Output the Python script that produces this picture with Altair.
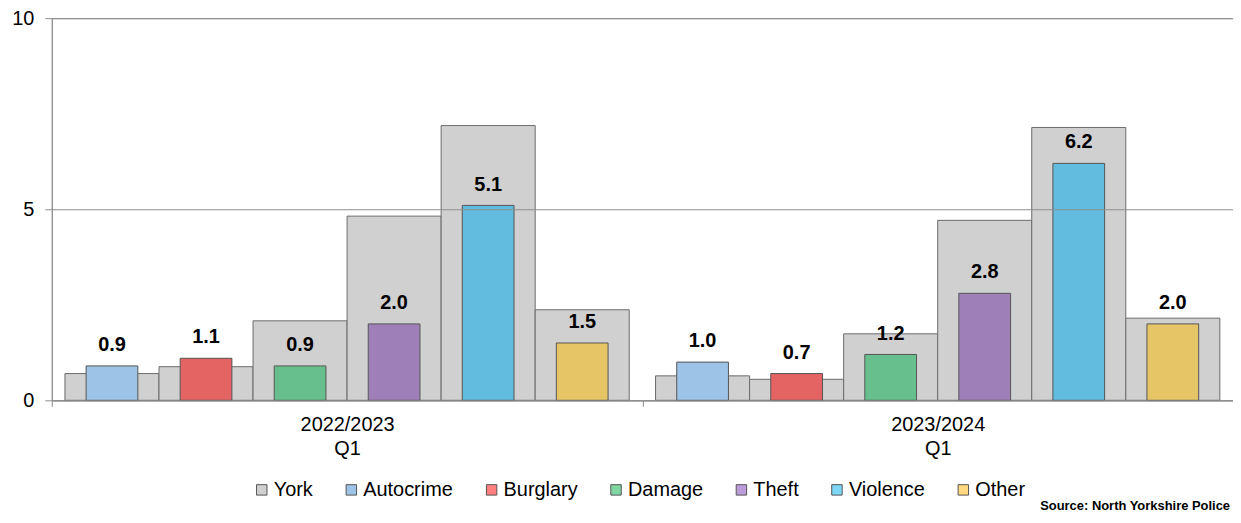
import altair as alt
import pandas as pd

groups = ["2022/2023|Q1", "2023/2024|Q1"]
categories = ["Autocrime", "Burglary", "Damage", "Theft", "Violence", "Other"]
york_2022 = [0.70, 0.88, 2.08, 4.82, 7.19, 2.37]
york_2023 = [0.64, 0.55, 1.74, 4.71, 7.14, 2.15]
area_2022 = [0.9, 1.1, 0.9, 2.0, 5.1, 1.5]
area_2023 = [1.0, 0.7, 1.2, 2.8, 6.2, 2.0]

bar_colors = ["#9DC3E6", "#E46464", "#66BF8C", "#9E7FB8", "#62BCE0", "#E5C566"]
legend_names = ["York"] + categories
legend_colors = ["#D0D0D0", "#9DC3E6", "#FF7F7F", "#7FD6A2", "#B99CD9", "#7FD6F6", "#FFD97F"]
source_text = "Source: North Yorkshire Police"

rows = []
for g, yk, ar in [(groups[0], york_2022, area_2022), (groups[1], york_2023, area_2023)]:
    for c, y, v in zip(categories, yk, ar):
        rows.append({"group": g, "category": c, "york": y, "value": v})
df = pd.DataFrame(rows)

FONT = "Liberation Sans"

x_enc = alt.X(
    "group:N", sort=groups,
    scale=alt.Scale(paddingInner=0, paddingOuter=0),
    axis=alt.Axis(title=None, labelExpr="split(datum.label, '|')", labelFontSize=20,
                  labelColor="black", labelLineHeight=24, tickBand="extent", tickSize=6,
                  tickColor="#8c8c8c", domainColor="#8c8c8c", labelPadding=8, labelAngle=0),
)
# York bars: full category width
xo_york = alt.XOffset("category:N", sort=categories,
                      scale=alt.Scale(paddingInner=0, paddingOuter=0.14))
# crime-type bars: same step, 55% of it, centred on the York bars
xo_crime = alt.XOffset("category:N", sort=categories,
                       scale=alt.Scale(paddingInner=0.45, paddingOuter=0.365))
y_scale = alt.Scale(domain=[0, 10])
y_axis = alt.Axis(values=[0, 5, 10], title=None, grid=True, gridColor="#8c8c8c",
                  tickSize=7, tickColor="#8c8c8c", domainColor="#8c8c8c",
                  labelFontSize=20, labelPadding=11, labelColor="black", zindex=1)

york = alt.Chart(df).mark_bar(color="#D0D0D0", stroke="#6b6b6b", strokeWidth=1).encode(
    x=x_enc, xOffset=xo_york,
    y=alt.Y("york:Q", scale=y_scale, axis=y_axis),
)

crime_base = alt.Chart(df).encode(x=x_enc, xOffset=xo_crime)
colored = crime_base.mark_bar(stroke="#555555", strokeWidth=1).encode(
    y=alt.Y("value:Q", scale=y_scale),
    fill=alt.Fill("category:N", scale=alt.Scale(domain=categories, range=bar_colors), legend=None),
)
labels = crime_base.mark_text(dy=-21, fontWeight="bold", fontSize=20, baseline="middle",
                              color="black", font=FONT).encode(
    y=alt.Y("value:Q", scale=y_scale),
    text=alt.Text("value:Q", format=".1f"),
)
crime = alt.layer(colored, labels)

legend_df = pd.DataFrame({"series": legend_names})
legend_layer = alt.Chart(legend_df).mark_square(opacity=1, filled=True).encode(
    color=alt.Color("series:N", sort=legend_names,
                    scale=alt.Scale(domain=legend_names, range=legend_colors),
                    legend=alt.Legend(title=None, orient="none", legendX=201, legendY=464,
                                      direction="horizontal", symbolType="square",
                                      symbolSize=110, symbolStrokeColor="#555555",
                                      symbolStrokeWidth=1, labelFontSize=20,
                                      labelColor="black", labelFont=FONT,
                                      columnPadding=28, labelOffset=2, padding=0))
).transform_filter("false")

source = alt.Chart(pd.DataFrame({"t": [source_text]})).mark_text(
    align="right", baseline="middle", fontWeight="bold", fontSize=13, font=FONT, color="black"
).encode(x=alt.value(1184), y=alt.value(490), text="t:N")

chart = alt.layer(york, crime, legend_layer, source).resolve_scale(
    xOffset="independent"
).properties(
    width=1187, height=384,
    autosize=alt.AutoSizeParams(type="none"),
    padding={"left": 44, "top": 9, "right": 0, "bottom": 113},
).configure(font=FONT).configure_view(stroke="#8c8c8c", strokeWidth=1).configure_axis(
    labelFont=FONT
)

chart.save("out.html", embed_options={"renderer": "svg", "actions": False})
